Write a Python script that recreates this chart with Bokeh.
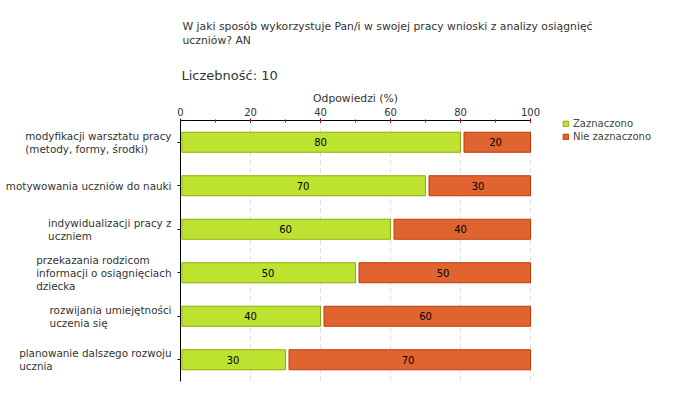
from bokeh.plotting import figure
from bokeh.models import (Range1d, SingleIntervalTicker, FixedTicker, Label,
                          Legend, LegendItem, ColumnDataSource)
from bokeh.embed import file_html
from bokeh.resources import INLINE

# ---- data ----
title_text = "W jaki sposób wykorzystuje Pan/i w swojej pracy wnioski z analizy osiągnięć\nuczniów? AN"
count_text = "Liczebność: 10"
axis_title = "Odpowiedzi (%)"
categories = [
    "modyfikacji warsztatu pracy\n(metody, formy, środki)",
    "motywowania uczniów do nauki",
    "indywidualizacji pracy z\nuczniem",
    "przekazania rodzicom\ninformacji o osiągnięciach\ndziecka",
    "rozwijania umiejętności\nuczenia się",
    "planowanie dalszego rozwoju\nucznia",
]
zaznaczono = [80, 70, 60, 50, 40, 30]
nie_zaznaczono = [20, 30, 40, 50, 60, 70]
series_names = ["Zaznaczono", "Nie zaznaczono"]
x_ticks = [0, 20, 40, 60, 80, 100]

# ---- style / layout ----
FONT = "DejaVu Sans"
TXT = "#333333"
GREEN, GREEN_LINE = "#bee230", "#8caf00"
ORANGE, ORANGE_LINE = "#e06430", "#c03a08"
GAP0 = 0.4
GAP = 1.0
BAR_H = 0.46

W, H = 664, 384
BL, BT = 3, 8              # frame borders (left, top)
X0_PX, X100_PX = 180, 530  # where 0 and 100 % fall
YT_PX, YB_PX = 120, 381    # top / bottom of the category area

n = len(categories)
ypos = [i + 0.5 for i in range(n)]
kx = (X100_PX - X0_PX) / 100.0
ky = (YB_PX - YT_PX) / n

src = ColumnDataSource(dict(
    y=ypos,
    zl=[GAP0] * n,
    zr=zaznaczono,
    nl=[v + GAP for v in zaznaczono],
    nr=[a + b for a, b in zip(zaznaczono, nie_zaznaczono)],
    zm=[v / 2 for v in zaznaczono],
    nm=[a + b / 2 for a, b in zip(zaznaczono, nie_zaznaczono)],
    zt=[str(v) for v in zaznaczono],
    nt=[str(v) for v in nie_zaznaczono],
))

p = figure(width=W, height=H, output_backend="svg", toolbar_location=None,
           x_range=Range1d((BL - X0_PX) / kx, (W - X0_PX) / kx),
           y_range=Range1d((H - YT_PX) / ky, (BT - YT_PX) / ky),
           x_axis_location="above",
           min_border_left=BL, min_border_right=0,
           min_border_top=BT, min_border_bottom=0)
p.outline_line_color = None
p.background_fill_color = "white"
p.xgrid.visible = False
p.ygrid.visible = False

xa = p.xaxis[0]
xa.fixed_location = 0
xa.bounds = (0, 100)
xa.ticker = SingleIntervalTicker(interval=20, num_minor_ticks=2)
xa.axis_line_color = "black"
xa.major_tick_line_color = "black"
xa.major_tick_in = 2
xa.major_tick_out = 2
xa.minor_tick_line_color = "#dd0000"
xa.minor_tick_in = 2
xa.minor_tick_out = 1
xa.major_label_text_font_size = "0px"
xa.major_label_text_color = None
xa.major_label_standoff = 0

ya = p.yaxis[0]
ya.fixed_location = 0
ya.bounds = (0, n)
ya.ticker = FixedTicker(ticks=ypos)
ya.axis_line_color = "black"
ya.major_tick_line_color = "black"
ya.major_tick_in = 0
ya.major_tick_out = 3
ya.minor_tick_line_color = None
ya.major_label_text_font_size = "0px"
ya.major_label_text_color = None
ya.major_label_standoff = 0

# vertical dashed grid lines at the major ticks
p.segment(x0=x_ticks[1:], x1=x_ticks[1:], y0=[0] * (len(x_ticks) - 1),
          y1=[n] * (len(x_ticks) - 1), line_color="#dddddd",
          line_dash="4 4", line_width=1)

rz = p.hbar(y="y", left="zl", right="zr", height=BAR_H, source=src,
            fill_color=GREEN, line_color=GREEN_LINE, line_width=1)
rn = p.hbar(y="y", left="nl", right="nr", height=BAR_H, source=src,
            fill_color=ORANGE, line_color=ORANGE_LINE, line_width=1)

p.text(x="zm", y="y", text="zt", source=src, text_align="center",
       text_baseline="middle", text_font_size="10px", text_color="black",
       text_font={"value": FONT})
p.text(x="nm", y="y", text="nt", source=src, text_align="center",
       text_baseline="middle", text_font_size="10px", text_color="black",
       text_font={"value": FONT})

# tick labels of the top axis
p.text(x=x_ticks, y=[0] * len(x_ticks), text=[str(t) for t in x_ticks],
       y_offset=-9, text_align="center", text_baseline="middle",
       text_font_size="10px", text_color=TXT, text_font={"value": FONT})

# axis title
p.add_layout(Label(x=50, y=0, y_offset=22, text=axis_title,
                   text_align="center", text_baseline="middle",
                   text_font=FONT, text_font_size="10.8px", text_color=TXT))

# category labels
for yv, cat in zip(ypos, categories):
    p.add_layout(Label(x=0, y=yv, x_offset=-9, text=cat, anchor="center_right",
                       text_align="left", text_baseline="middle",
                       text_font=FONT, text_font_size="10.4px", text_color=TXT,
                       text_line_height=1.1))

# titles
p.add_layout(Label(x=0, y=0, x_offset=2, y_offset=101, text=title_text,
                   text_baseline="top", text_align="left", text_font=FONT,
                   text_font_size="10.8px", text_color=TXT, text_line_height=1.1))
p.add_layout(Label(x=0, y=0, x_offset=1, y_offset=45, text=count_text,
                   text_baseline="middle", text_align="left", text_font=FONT,
                   text_font_size="13px", text_color=TXT))

legend = Legend(items=[LegendItem(label=series_names[0], renderers=[rz]),
                       LegendItem(label=series_names[1], renderers=[rn])],
                location=(562 - BL, H - 142), glyph_width=7, glyph_height=7,
                label_height=10, label_standoff=4, spacing=2, padding=0,
                margin=0, border_line_color=None, background_fill_alpha=0,
                label_text_font=FONT, label_text_font_size="10px",
                label_text_color="#444444")
p.add_layout(legend, "center")

open("out.html", "w").write(file_html(p, INLINE))
